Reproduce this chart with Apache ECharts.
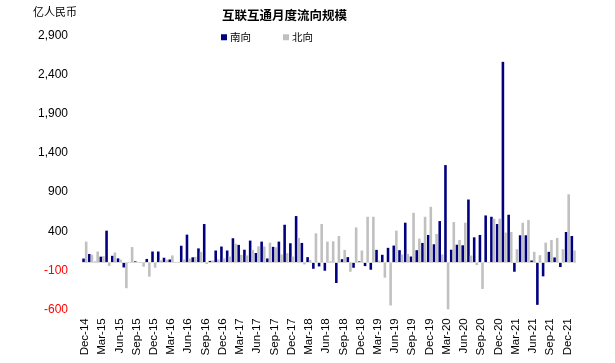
<!DOCTYPE html>
<html><head><meta charset="utf-8">
<script src="https://cdn.jsdelivr.net/npm/echarts@6/dist/echarts.min.js"></script>
<style>html,body{margin:0;padding:0;background:#fff}#c{width:615px;height:363px}</style>
</head><body><div id="c"></div>
<script>
const categories = ['Dec-14','Jan-15','Feb-15','Mar-15','Apr-15','May-15','Jun-15','Jul-15','Aug-15','Sep-15','Oct-15','Nov-15',
'Dec-15','Jan-16','Feb-16','Mar-16','Apr-16','May-16','Jun-16','Jul-16','Aug-16','Sep-16','Oct-16','Nov-16',
'Dec-16','Jan-17','Feb-17','Mar-17','Apr-17','May-17','Jun-17','Jul-17','Aug-17','Sep-17','Oct-17','Nov-17',
'Dec-17','Jan-18','Feb-18','Mar-18','Apr-18','May-18','Jun-18','Jul-18','Aug-18','Sep-18','Oct-18','Nov-18',
'Dec-18','Jan-19','Feb-19','Mar-19','Apr-19','May-19','Jun-19','Jul-19','Aug-19','Sep-19','Oct-19','Nov-19',
'Dec-19','Jan-20','Feb-20','Mar-20','Apr-20','May-20','Jun-20','Jul-20','Aug-20','Sep-20','Oct-20','Nov-20',
'Dec-20','Jan-21','Feb-21','Mar-21','Apr-21','May-21','Jun-21','Jul-21','Aug-21','Sep-21','Oct-21','Nov-21',
'Dec-21','Jan-22'];
const southbound = [50,108,8,74,407,85,52,-64,6,14,2,45,
140,140,60,38,5,214,356,66,180,492,20,153,
204,153,310,225,163,280,121,267,51,200,267,483,
246,594,250,68,-81,-51,-106,8,-263,42,68,-68,
13,-47,-93,161,98,187,216,157,509,76,157,250,
352,233,530,1247,163,227,220,806,322,352,602,585,
492,2569,611,-119,348,348,25,-543,-178,136,64,-59,
390,339];
const northbound = [267,100,140,80,-45,127,36,-330,197,4,-55,-182,
-68,28,36,90,2,40,50,72,136,-20,25,38,
51,76,240,98,90,161,206,204,254,195,102,119,
76,314,-25,30,373,492,267,271,339,161,-119,449,
153,585,585,25,-195,-551,407,102,110,636,305,585,
712,365,102,-619,517,288,509,89,-34,-339,5,560,
560,382,390,170,509,543,136,93,254,288,314,170,
873,153];
const yTicks = {min:-600, max:2900, interval:500};
const unitLabel = '亿人民币';
const titleText = '互联互通月度流向规模';
const seriesNames = ['南向','北向'];

const chart = echarts.init(document.getElementById('c'), null, {renderer:'canvas'});
const latin = '"Liberation Sans", Arial, sans-serif';
const cjk = '"Noto Sans CJK SC", sans-serif';
chart.setOption({
  animation:false,
  backgroundColor:'#fff',
  title:{text:titleText,left:217,top:4,textStyle:{fontFamily:cjk,fontSize:12.5,fontWeight:'bold',color:'#000'}},
  graphic:[{type:'text',left:33,top:6,style:{text:unitLabel,font:'11px "Noto Sans CJK SC", sans-serif',fill:'#000'}}],
  legend:{left:216,top:27,icon:'rect',itemWidth:6,itemHeight:6,itemGap:32,
    textStyle:{fontFamily:cjk,fontSize:10.5,color:'#000',padding:[0,0,0,-2]},data:seriesNames},
  grid:{left:82,right:39,top:36,bottom:53.7,containLabel:false},
  xAxis:{type:'category',data:categories,
    axisLine:{show:false,onZero:false},axisTick:{show:false},
    axisLabel:{interval:2,rotate:90,margin:9,fontFamily:latin,fontSize:11.5,color:'#000'}},
  yAxis:{type:'value',min:yTicks.min,max:yTicks.max,interval:yTicks.interval,
    axisLine:{show:false},axisTick:{show:false},splitLine:{show:false},
    axisLabel:{margin:14,fontFamily:latin,fontSize:12,
      formatter:function(v){const s=Math.abs(v).toLocaleString('en-US');return v<0?'{neg|-'+s+'}':'{pos|'+s+'}';},
      rich:{neg:{color:'#ff0000',fontFamily:latin,fontSize:12},pos:{color:'#000',fontFamily:latin,fontSize:12}}}},
  series:[
    {name:seriesNames[0],type:'bar',data:southbound,itemStyle:{color:'#000080'},barGap:'0%',barCategoryGap:'10%',
     markLine:{silent:true,symbol:'none',label:{show:false},lineStyle:{color:'#d9d9d9',width:1,type:'solid'},data:[{yAxis:0}]}},
    {name:seriesNames[1],type:'bar',data:northbound,itemStyle:{color:'#c0c0c0'},barGap:'0%',barCategoryGap:'10%'}
  ]
});
</script></body></html>
